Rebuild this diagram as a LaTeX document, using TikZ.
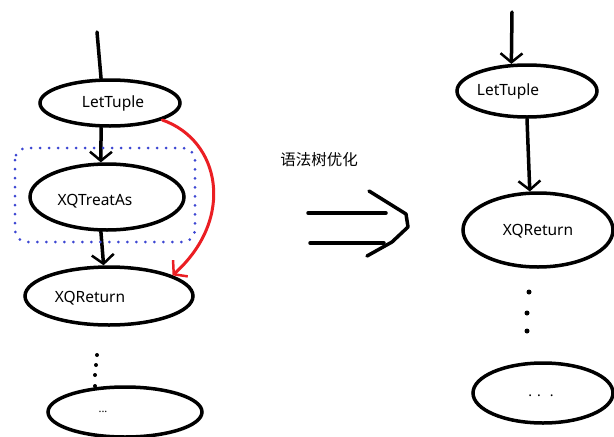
\documentclass[tikz,border=0pt]{standalone}
\usepackage{fontspec}
\setmainfont{Noto Sans}
\newfontfamily\cjk{Noto Sans CJK SC}
\usetikzlibrary{shapes.geometric,arrows.meta}

\definecolor{dotblue}{RGB}{60,70,210}
\definecolor{hlred}{RGB}{235,30,35}

\tikzset{
  op/.style={ellipse, draw, inner sep=0pt},
  optext/.style={font=\fontsize{15.5}{18}\selectfont},
  flow/.style={-{Straight Barb[length=9pt,width=22pt,line width=2.5pt]}},
  dotty/.style={fill=black, inner sep=0pt, minimum size=4pt, circle},
}

\begin{document}
\begin{tikzpicture}[x=1pt, y=-1pt, line width=3.5pt, line cap=round]
 \useasboundingbox (0,0) rectangle (614,437);

 % before: LetTuple -> XQTreatAs -> XQReturn
 \coordinate (in1) at (97,32);
 \node[op, minimum width=140, minimum height=46,
   label={[optext, xshift=3pt]center:LetTuple}] (lt) at (110,103) {};
 \node[op, minimum width=154, minimum height=66,
   label={[optext, xshift=-12pt, yshift=-4pt]center:XQTreatAs}] (tr) at (107,197) {};
 \node[op, minimum width=168, minimum height=58,
   label={[optext, xshift=-19pt, yshift=-2pt]center:XQReturn}] (rt) at (109,296) {};
 \node[op, minimum width=154, minimum height=50,
   label={[font=\fontsize{11}{12}\selectfont, xshift=-22pt]center:...}] (etc) at (125,412) {};

 \draw (in1) to[out=-85,in=95] (lt.110);
 \draw[flow] (lt.-110) -- (tr.100);
 \draw[flow] (tr.-100) -- (rt.100);

 % the node that gets dropped
 \draw[dotblue, line width=3pt, dash pattern=on 0pt off 9pt, rounded corners=12pt]
   (15,148) rectangle (195,242);
 \draw[hlred, line width=3pt, flow]
   (lt.-18) .. controls (220,140) and (236,218) .. (rt.18);

 \node[dotty] (d1) at (97,355) {};
 \node[dotty] (d2) at (96,365) {};
 \node[dotty] (d3) at (95,375) {};
 \node[dotty] (d4) at (95,386) {};

 % the rewrite step
 \node[font=\fontsize{15.5}{18}\selectfont\cjk] (opt) at (319,160) {语法树优化};
 \draw (308,213) -- (386,213);
 \draw (310,243) -- (384,243);
 \draw[line join=round] (369,191) -- (406,214) -- (408,227) -- (392,242) -- (367,256);

 % after: LetTuple -> XQReturn
 \coordinate (in2) at (512,12);
 \node[op, minimum width=140, minimum height=52,
   label={[optext, xshift=-19pt]center:LetTuple}] (lt2) at (527,91) {};
 \node[op, minimum width=150, minimum height=74,
   label={[optext, yshift=-1pt]center:XQReturn}] (rt2) at (538,230) {};
 \node[op, minimum width=140, minimum height=60,
   label={[font=\fontsize{14}{16}\selectfont, xshift=-2pt, yshift=-3pt]center:.\hspace{5pt}.\hspace{9pt}.}] (etc2) at (543,393) {};

 \draw[flow] (in2) -- (lt2.120);
 \draw[flow] (lt2.-90) -- (rt2.102);

 \node[dotty, minimum size=5pt] (e1) at (529,292) {};
 \node[dotty, minimum size=5pt] (e2) at (527,313) {};
 \node[dotty, minimum size=5pt] (e3) at (527,331) {};
\end{tikzpicture}
\end{document}
